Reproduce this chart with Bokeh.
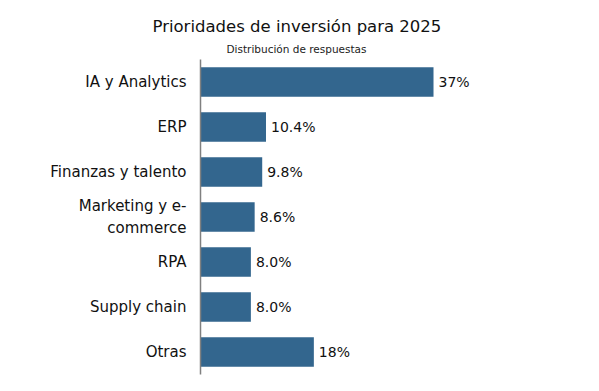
from bokeh.plotting import figure
from bokeh.models import ColumnDataSource, FactorRange, Range1d, Title
from bokeh.core.properties import value
from bokeh.embed import file_html
from bokeh.resources import INLINE

categories = ["IA y Analytics", "ERP", "Finanzas y talento", "Marketing y e-\ncommerce",
              "RPA", "Supply chain", "Otras"]
values = [37, 10.4, 9.8, 8.6, 8.0, 8.0, 18]
value_labels = ["37%", "10.4%", "9.8%", "8.6%", "8.0%", "8.0%", "18%"]

title_text = "Prioridades de inversión para 2025"
subtitle_text = "Distribución de respuestas"

FONT = "DejaVu Sans"
BAR = "#33668e"

src = ColumnDataSource(dict(cat=categories, val=values, lab=value_labels))

p = figure(width=591, height=383, output_backend="svg", toolbar_location=None,
           y_range=FactorRange(factors=categories[::-1], range_padding=0),
           x_range=Range1d(0, 60.5),
           min_border_left=200, min_border_right=10, min_border_top=59, min_border_bottom=9)

p.hbar(y="cat", right="val", left=0, height=0.66, source=src,
       fill_color=BAR, line_color=None)
p.text(x="val", y="cat", text="lab", source=src, x_offset=5,
       text_baseline="middle", text_align="left",
       text_font=value(FONT), text_font_size="14px", text_color="#111111")

p.add_layout(Title(text=subtitle_text, text_font=FONT, text_font_size="10.5px",
                   text_font_style="normal", align="left", offset=26, standoff=10,
                   text_color="#222222"), "above")
p.add_layout(Title(text=title_text, text_font=FONT, text_font_size="16.5px",
                   text_font_style="normal", align="left", offset=-48, standoff=0,
                   text_color="#111111"), "above")
p.add_layout(Title(text=" ", text_font=FONT, text_font_size="8px",
                   text_font_style="normal", standoff=0), "above")

p.xaxis.visible = False
p.xgrid.visible = False
p.ygrid.visible = False
p.outline_line_color = None

ya = p.yaxis[0]
ya.axis_line_color = "#808080"
ya.axis_line_width = 1.5
ya.major_tick_line_color = None
ya.minor_tick_line_color = None
ya.major_tick_out = 0
ya.major_tick_in = 0
ya.major_label_standoff = 14
ya.major_label_text_font = FONT
ya.major_label_text_font_size = "15px"
ya.major_label_text_color = "#111111"

open("out.html", "w").write(file_html(p, INLINE))
